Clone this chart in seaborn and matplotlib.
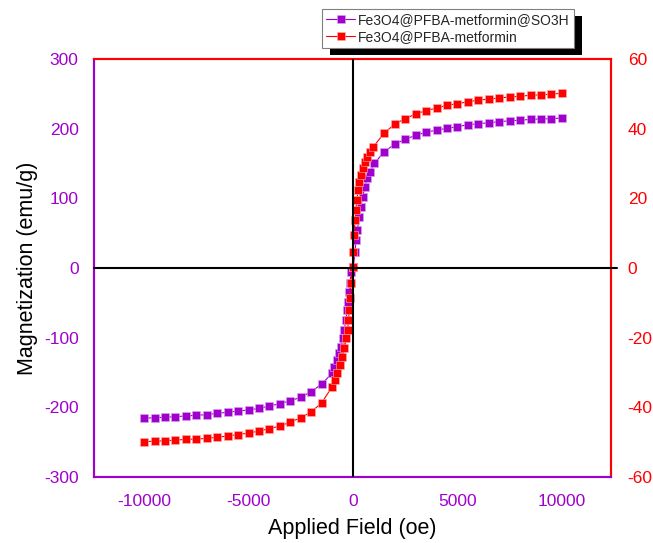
import matplotlib
matplotlib.use("Agg")
import matplotlib.pyplot as plt
import seaborn as sns
import pandas as pd
from matplotlib.patches import Rectangle

# ---- data ----
h_so3h = [-10000, -9500, -9000, -8500, -8000, -7500, -7000, -6500, -6000, -5500,
          -5000, -4500, -4000, -3500, -3000, -2500, -2000, -1500,
          -1000, -890, -780, -670, -575, -490, -415, -350, -270, -225, -190, -143, -96,
          14, 96, 143, 206, 301, 368, 464, 574, 684, 813, 1020,
          1500, 2000, 2500, 3000, 3500, 4000, 4500, 5000, 5500, 6000, 6500, 7000,
          7500, 8000, 8500, 9000, 9500, 10000]
m_so3h = [-215.7, -214.8, -214.3, -213.4, -212.4, -211.4, -210.5, -208.6, -207.2, -205.3,
          -203.8, -201.4, -198.1, -194.8, -190.5, -185.6, -177.5, -166.5,
          -151.1, -141.7, -132.0, -122.4, -113.0, -100.9, -89.0, -74.6, -60.3, -48.4, -34.0, -22.0, -5.3,
          1.9, 23.4, 40.2, 54.5, 73.6, 88.0, 102.3, 116.7, 128.7, 138.2, 150.3,
          166.9, 178.0, 184.7, 190.5, 194.8, 198.0, 200.5, 202.8, 205.7, 207.1, 208.5, 210.0,
          211.4, 212.0, 213.4, 213.9, 214.3, 215.3]

h_mf = [-10000, -9500, -9000, -8500, -8000, -7500, -7000, -6500, -6000, -5500,
        -5000, -4500, -4000, -3500, -3000, -2500, -2000, -1500,
        -1000, -860, -750, -620, -510, -415, -335, -255, -225, -177, -143, -110, -14,
        14, 48, 96, 143, 177, 253, 301, 368, 464, 574, 684, 813, 970,
        1500, 2000, 2500, 3000, 3500, 4000, 4500, 5000, 5500, 6000, 6500, 7000,
        7500, 8000, 8500, 9000, 9500, 10000]
m_mf = [-49.9, -49.7, -49.6, -49.4, -49.2, -49.1, -48.9, -48.6, -48.2, -47.8,
        -47.4, -46.8, -46.1, -45.4, -44.2, -43.0, -41.3, -38.7,
        -34.1, -32.2, -30.2, -27.8, -25.5, -23.1, -20.2, -17.8, -14.9, -12.1, -8.7, -4.4, 0.4,
        4.7, 9.5, 13.8, 16.6, 19.5, 22.4, 24.8, 26.7, 28.6, 30.5, 32.0, 33.4, 34.8,
        38.8, 41.3, 42.9, 44.2, 45.2, 45.9, 46.7, 47.2, 47.7, 48.2, 48.5, 48.8,
        49.1, 49.3, 49.6, 49.7, 49.9, 50.2]

left_ticks = [-300, -200, -100, 0, 100, 200, 300]
right_ticks = [-60, -40, -20, 0, 20, 40, 60]
x_ticks = [-10000, -5000, 0, 5000, 10000]
label_so3h = "Fe3O4@PFBA-metformin@SO3H"
label_mf = "Fe3O4@PFBA-metformin"

PURPLE = "#A000CC"
RED = "#FF0000"

sns.set_theme(style="white")
plt.rcParams["font.family"] = ["Liberation Sans", "DejaVu Sans"]

df1 = pd.DataFrame({"H": h_so3h, "M": m_so3h})
df2 = pd.DataFrame({"H": h_mf, "M": m_mf})

fig = plt.figure(figsize=(6.53, 5.43), dpi=100)
ax = fig.add_axes([94 / 653, 66 / 543, (611 - 94) / 653, (477 - 59) / 543])
ax2 = ax.twinx()

sns.lineplot(data=df1, x="H", y="M", ax=ax, sort=False, color=PURPLE, lw=0.8,
             marker="s", markersize=5.6, markeredgewidth=0.4, markeredgecolor="#D9A6EE",
             label=label_so3h, legend=False)
sns.lineplot(data=df2, x="H", y="M", ax=ax2, sort=False, color=RED, lw=0.8,
             marker="s", markersize=5.6, markeredgewidth=0.4, markeredgecolor="#FFB0B0",
             label=label_mf, legend=False)

ax.set_xlim(-12400, 12350)
ax.set_ylim(-300, 300)
ax2.set_ylim(-60, 60)
ax.set_xticks(x_ticks)
ax.set_yticks(left_ticks)
ax2.set_yticks(right_ticks)
ax.set_xticklabels([str(v) for v in x_ticks])
ax.set_yticklabels([str(v) for v in left_ticks])
ax2.set_yticklabels([str(v) for v in right_ticks])

ax.tick_params(axis="y", colors=PURPLE, length=0, pad=11, labelsize=12.5)
ax.tick_params(axis="x", colors=PURPLE, length=0, pad=12, labelsize=12.5)
ax2.tick_params(axis="y", colors=RED, length=0, pad=12, labelsize=12.5)

ax.set_xlabel("Applied Field (oe)", fontsize=15.5, color="black", labelpad=7)
ax.set_ylabel("Magnetization (emu/g)", fontsize=15.5, color="black", labelpad=4)
ax2.set_ylabel("")

for a in (ax, ax2):
    a.grid(False)
    for s in a.spines.values():
        s.set_linewidth(1.5)
    a.spines["left"].set_color(PURPLE)
    a.spines["bottom"].set_color(PURPLE)
    a.spines["top"].set_color(RED)
    a.spines["right"].set_color(RED)

ax2.axhline(0, xmin=0, xmax=1.012, color="black", lw=1.5, clip_on=False, zorder=5)
ax2.axvline(0, color="black", lw=1.5, zorder=5)

handles = ax.get_lines()[:1] + ax2.get_lines()[:1]
leg = fig.legend(handles, [label_so3h, label_mf], loc="upper left",
                 bbox_to_anchor=(322 / 653, 1 - 9 / 543), fontsize=10,
                 frameon=True, fancybox=False, edgecolor="#808080",
                 facecolor="white", framealpha=1,
                 handlelength=2.1, handletextpad=0.2, borderpad=0.3,
                 labelspacing=0.2, borderaxespad=0)
leg.get_frame().set_linewidth(0.8)
leg.set_zorder(10)

fig.canvas.draw()
bb = leg.get_window_extent()
shadow = Rectangle((bb.x0 + 8, bb.y0 - 7), bb.width, bb.height,
                   transform=None, facecolor="black", edgecolor="none", zorder=9)
fig.add_artist(shadow)

fig.savefig("out.png", dpi=100)
